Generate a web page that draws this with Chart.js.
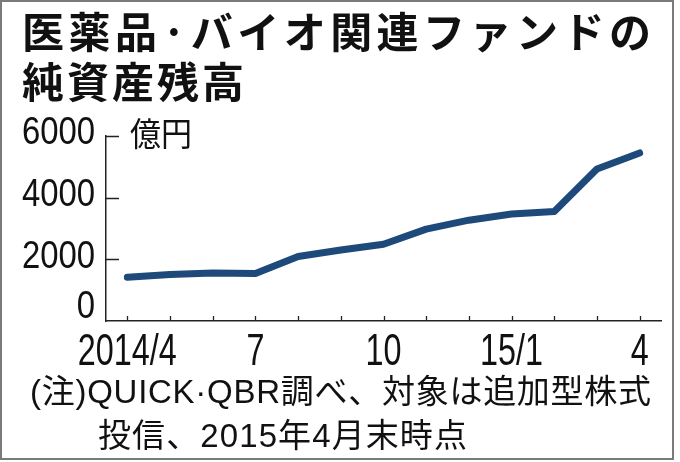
<!DOCTYPE html>
<html><head><meta charset="utf-8">
<script src="https://cdn.jsdelivr.net/npm/chart.js@4.4.0/dist/chart.umd.min.js"></script>
<style>html,body{margin:0;padding:0;background:#fff;} canvas{display:block;}</style>
</head><body>
<canvas id="c" width="680" height="462"></canvas>
<script>
// ---- data ----
const categories = ['2014/4','2014/5','2014/6','2014/7','2014/8','2014/9','2014/10','2014/11','2014/12','2015/1','2015/2','2015/3','2015/4'];
const tickLabels = ['2014/4','','','7','','','10','','','15/1','','','4'];
const netAssets = [1420,1510,1560,1540,2090,2300,2490,2980,3270,3470,3550,4930,5450];
const yTicks = [0,2000,4000,6000];
const unitLabel = '億円';
const titleLines = ['医薬品·バイオ関連ファンドの','純資産残高'];
const noteLines = ['(注)QUICK·QBR調べ、対象は追加型株式','投信、2015年4月末時点'];

const NUM_FONT = '"Liberation Sans", Arial, sans-serif';
const JP_FONT = '"Noto Sans CJK JP", "Noto Sans", sans-serif';
const LINE_COLOR = '#1d4a7a';
const AXIS_COLOR = '#222';
const TEXT_COLOR = '#111';

function fitText(ctx, text, x, y, w) {
  ctx.letterSpacing = '0px';
  const n = [...text].length;
  const m = ctx.measureText(text).width;
  if (m >= w) {
    ctx.fillText(text, x, y, w);
  } else {
    ctx.letterSpacing = ((w - m) / Math.max(1, n - 1)).toFixed(2) + 'px';
    ctx.fillText(text, x, y);
    ctx.letterSpacing = '0px';
  }
}

// condensed text drawn at (x, y) with horizontal scale sx
function narrowText(ctx, text, x, y, sx) {
  ctx.save();
  ctx.translate(x, y);
  ctx.scale(sx, 1);
  ctx.fillText(text, 0, 0);
  ctx.restore();
}

const decorPlugin = {
  id: 'decor',
  beforeDatasetsDraw(chart) {
    const ctx = chart.ctx;
    const xs = chart.scales.x, ys = chart.scales.y;
    const area = chart.chartArea;
    ctx.save();
    ctx.strokeStyle = AXIS_COLOR;
    ctx.lineWidth = 1.3;
    ctx.beginPath();
    yTicks.forEach(v => {
      if (v === 0) return;
      const py = Math.round(ys.getPixelForValue(v)) + 0.5;
      ctx.moveTo(area.left, py);
      ctx.lineTo(area.left + 13, py);
    });
    categories.forEach((c, i) => {
      const px = Math.round(xs.getPixelForValue(i)) + 0.5;
      ctx.moveTo(px, area.bottom);
      ctx.lineTo(px, area.bottom - 5);
    });
    ctx.stroke();
    ctx.restore();
  },
  afterDraw(chart) {
    const ctx = chart.ctx;
    const xs = chart.scales.x, ys = chart.scales.y;
    const area = chart.chartArea;
    ctx.save();
    ctx.fillStyle = TEXT_COLOR;

    // y tick labels (condensed, right aligned)
    ctx.font = '38px ' + NUM_FONT;
    ctx.textBaseline = 'middle';
    ctx.textAlign = 'right';
    yTicks.forEach(v => {
      const cy = Math.min(ys.getPixelForValue(v) - 2, area.bottom - 13);
      narrowText(ctx, String(v), area.left - 11, cy, 0.865);
    });

    // x tick labels (condensed, centred)
    ctx.font = '44px ' + NUM_FONT;
    ctx.textBaseline = 'alphabetic';
    ctx.textAlign = 'center';
    const sxX = 99 / ctx.measureText('2014/4').width;
    tickLabels.forEach((t, i) => {
      if (!t) return;
      narrowText(ctx, t, xs.getPixelForValue(i), area.bottom + 44, sxX);
    });

    ctx.textAlign = 'left';
    ctx.textBaseline = 'middle';
    // title
    ctx.font = 'bold 42px ' + JP_FONT;
    fitText(ctx, titleLines[0], 22, 32, 629);
    fitText(ctx, titleLines[1], 22, 82, 222);
    // unit
    ctx.font = '33px ' + JP_FONT;
    fitText(ctx, unitLabel, area.left + 24, ys.getPixelForValue(yTicks[yTicks.length - 1]) - 3, 62);
    // notes
    ctx.font = '33px "Liberation Sans", ' + JP_FONT;
    fitText(ctx, noteLines[0], 30, 394, 621);
    fitText(ctx, noteLines[1], 98, 438, 369);
    // frame
    ctx.strokeStyle = '#7a7a7a';
    ctx.lineWidth = 2;
    ctx.strokeRect(1, 1, 672, 458);
    ctx.restore();
  }
};

new Chart(document.getElementById('c'), {
  type: 'line',
  data: {
    labels: categories,
    datasets: [{
      data: netAssets,
      borderColor: LINE_COLOR,
      borderWidth: 7,
      borderCapStyle: 'round',
      borderJoinStyle: 'round',
      pointRadius: 0,
      tension: 0,
      fill: false
    }]
  },
  options: {
    responsive: false,
    animation: false,
    devicePixelRatio: 1,
    layout: { padding: { top: 136, right: 19, left: 0, bottom: 0 } },
    plugins: { legend: { display: false }, title: { display: false }, tooltip: { enabled: false } },
    scales: {
      x: {
        type: 'category',
        offset: true,
        grid: { display: false, drawTicks: false },
        border: { display: true, color: AXIS_COLOR, width: 1.5 },
        ticks: { display: false, autoSkip: false, callback: (v, i) => tickLabels[i] },
        afterFit: s => { s.height = 141; }
      },
      y: {
        min: 0, max: 6000,
        grid: { display: false, drawTicks: false },
        border: { display: true, color: AXIS_COLOR, width: 1.5 },
        afterBuildTicks: s => { s.ticks = yTicks.map(v => ({ value: v })); },
        ticks: { display: false, callback: v => String(v) },
        afterFit: s => { s.width = 106; }
      }
    }
  },
  plugins: [decorPlugin]
});
</script>
</body></html>
